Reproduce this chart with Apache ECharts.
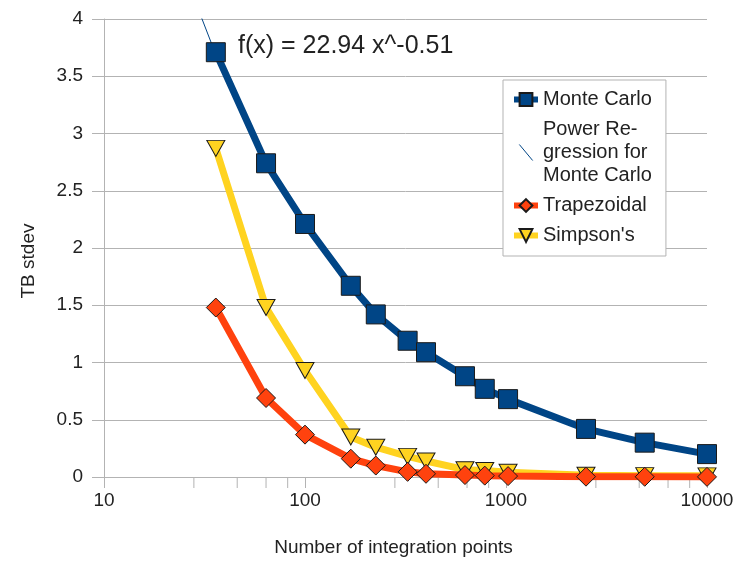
<!DOCTYPE html>
<html>
<head>
<meta charset="utf-8">
<title>TB stdev vs integration points</title>
<script src="https://cdn.jsdelivr.net/npm/echarts@6/dist/echarts.min.js"></script>
<style>
    html, body { margin: 0; padding: 0; background: #fff; }
    #chart { width: 737px; height: 562px; }
</style>
</head>
<body>
<div id="chart"></div>
<script>
// number of integration points (x) and stdev per method
let points = [36, 64, 100, 169, 225, 324, 400, 625, 784, 1024, 2500, 4900, 10000];
let monteCarlo = [3.71, 2.74, 2.21, 1.67, 1.42, 1.19, 1.09, 0.88, 0.77, 0.68, 0.42, 0.30, 0.20];
let trapezoidal = [1.48, 0.69, 0.37, 0.16, 0.10, 0.045, 0.028, 0.017, 0.012, 0.008, 0.003, 0.002, 0.001];
let simpsons = [2.87, 1.48, 0.93, 0.35, 0.26, 0.18, 0.14, 0.064, 0.057, 0.041, 0.015, 0.012, 0.010];

// power regression shown on the chart: f(x) = 22.94 x^-0.51
let regA = 22.94;
let regB = -0.51;
let regX = [30].concat(points);

// minor tick positions on the x axis
let minorTicks = [28, 46, 64, 82, 280, 460, 640, 820, 2800, 4600, 6400, 8200];

let FONT = "Liberation Sans";
let GRID = "#b3b3b3";
let regName = "Power Regression for Monte Carlo";

function zip(xs, ys) {
    return xs.map(function (x, i) { return [x, ys[i]]; });
}

let chart = echarts.init(document.getElementById("chart"));

let option = {
    animation: false,
    backgroundColor: "#fff",
    textStyle: {fontFamily: FONT},
    grid: {left: 104, right: 30, top: 19, bottom: 84},
    xAxis: {
        type: "log",
        logBase: 10,
        min: 10,
        max: 10000,
        name: "Number of integration points",
        nameLocation: "middle",
        nameGap: 61,
        nameTextStyle: {fontFamily: FONT, fontSize: 19, color: "#222", padding: [0, 24, 0, 0]},
        axisLine: {lineStyle: {color: GRID}},
        axisTick: {length: 11, lineStyle: {color: GRID}},
        axisLabel: {
            fontFamily: FONT, fontSize: 19, color: "#222", margin: 14,
            formatter: function (v) { return String(Math.round(v)); }
        },
        splitLine: {show: false}
    },
    yAxis: {
        type: "value",
        min: 0,
        max: 4,
        interval: 0.5,
        name: "TB stdev",
        nameLocation: "middle",
        nameGap: 66,
        nameTextStyle: {fontFamily: FONT, fontSize: 19, color: "#222", padding: [0, 26, 0, 0]},
        axisLine: {show: true, lineStyle: {color: GRID}},
        axisTick: {show: true, length: 12, lineStyle: {color: GRID}},
        axisLabel: {fontFamily: FONT, fontSize: 19, color: "#222", margin: 21},
        splitLine: {lineStyle: {color: GRID}}
    },
    legend: {
        orient: "vertical",
        left: 503,
        top: 80,
        padding: [8, 14, 9, 8],
        itemGap: 7,
        itemWidth: 24,
        itemHeight: 16,
        backgroundColor: "#fff",
        borderColor: GRID,
        borderWidth: 1,
        lineStyle: {width: 6},
        textStyle: {fontFamily: FONT, fontSize: 20, color: "#222", lineHeight: 23},
        data: [
            "Monte Carlo",
            {
                name: regName,
                icon: "path://M0,0L10,12",
                itemStyle: {color: "none", borderColor: "#004586", borderWidth: 1},
                lineStyle: {opacity: 0}
            },
            "Trapezoidal",
            "Simpson's"
        ],
        formatter: function (name) {
            return name === regName ? "Power Re-\ngression for\nMonte Carlo" : name;
        }
    },
    graphic: [{
        type: "text",
        left: 238,
        top: 34,
        style: {text: "f(x) = 22.94 x^-0.51", font: "25px " + FONT, fill: "#222"}
    }],
    series: [
        {
            name: regName,
            type: "line",
            data: regX.map(function (x) { return [x, regA * Math.pow(x, regB)]; }),
            symbol: "none",
            lineStyle: {color: "#004586", width: 1},
            itemStyle: {color: "#004586"},
            z: 1
        },
        {
            name: "Monte Carlo",
            type: "line",
            data: zip(points, monteCarlo),
            symbol: "rect",
            symbolSize: 19,
            lineStyle: {color: "#004586", width: 7},
            itemStyle: {color: "#004586", borderColor: "#1a1a1a", borderWidth: 1},
            z: 4
        },
        {
            name: "Trapezoidal",
            type: "line",
            data: zip(points, trapezoidal),
            symbol: "diamond",
            symbolSize: 19,
            lineStyle: {color: "#ff420e", width: 7},
            itemStyle: {color: "#ff420e", borderColor: "#1a1a1a", borderWidth: 1},
            z: 3
        },
        {
            name: "Simpson's",
            type: "line",
            data: zip(points, simpsons),
            symbol: "triangle",
            symbolRotate: 180,
            symbolSize: [18, 16],
            lineStyle: {color: "#ffd320", width: 7},
            itemStyle: {color: "#ffd320", borderColor: "#1a1a1a", borderWidth: 1},
            z: 2
        },
        {
            // short minor ticks below the x axis
            name: "minor ticks",
            type: "custom",
            silent: true,
            clip: false,
            data: minorTicks.map(function (v) { return [v, 0]; }),
            renderItem: function (params, api) {
                let p = api.coord([api.value(0), 0]);
                return {
                    type: "line",
                    shape: {x1: p[0], y1: p[1], x2: p[0], y2: p[1] + 11},
                    style: {stroke: GRID, lineWidth: 1}
                };
            },
            z: 0
        }
    ]
};

chart.setOption(option);
</script>
</body>
</html>
